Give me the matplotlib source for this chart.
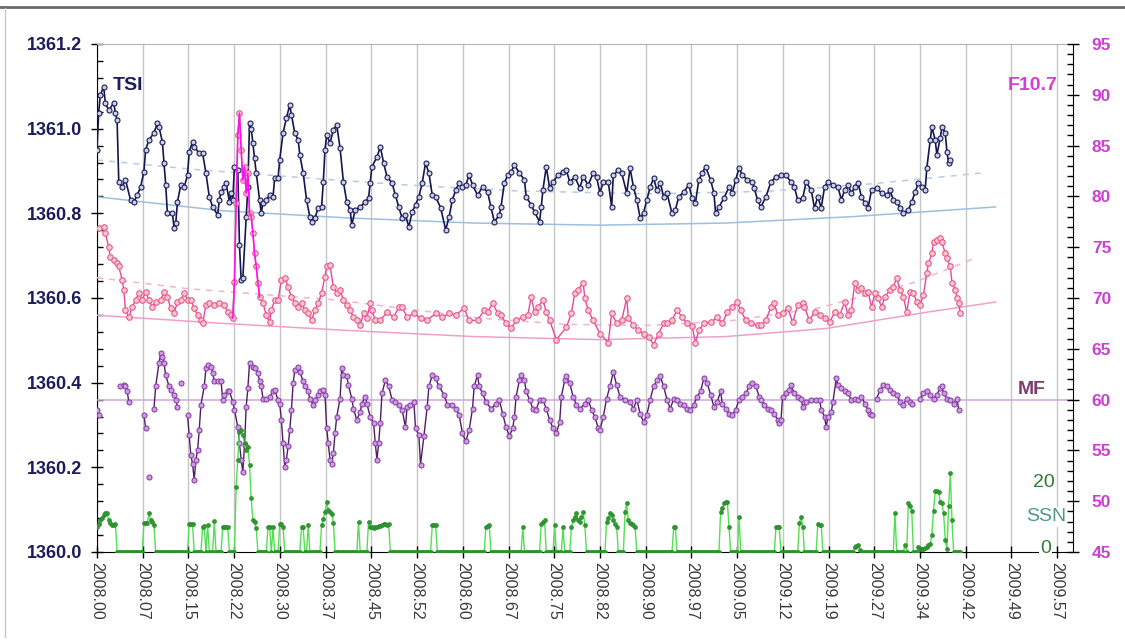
import numpy as np
import matplotlib.pyplot as plt
from matplotlib.lines import Line2D
from matplotlib.ticker import MultipleLocator, FixedLocator, FormatStrFormatter

plt.rcParams['font.family'] = ['Liberation Sans', 'DejaVu Sans']

nan = np.nan

# all series: day number counted from 2008.00
tsi_day = [0, 1, 2, 4, 5, 7, 10, 11, 12, 13, 15, 17, 20, 22, 24, 26, 28, 29, 31, 34,
           36, 37, 39, 40, 41, 42, 45, 46, 47, 48, 50, 52, 54, 55, 57, 58, 61, 63, 65, 67,
           69, 72, 73, 74, 76, 77, 79, 80, 81, 82, 84, 85, 86, 87, 89, 90, 91, 92, 93, 94,
           95, 97, 98, 99, 101, 103, 105, 106, 108, 109, 111, 113, 115, 116, 118, 120, 121, 123, 125, 127,
           128, 130, 132, 134, 135, 136, 137, 139, 141, 143, 145, 147, 149, 151, 152, 154, 157, 160, 162, 163,
           164, 167, 169, 171, 173, 176, 178, 180, 182, 184, 186, 188, 190, 192, 194, 196, 198, 200, 202, 205,
           208, 210, 212, 214, 216, 218, 220, 222, 224, 227, 230, 233, 235, 237, 240, 241, 243, 245, 247, 249,
           252, 255, 256, 259, 261, 264, 265, 266, 268, 270, 272, 275, 278, 280, 282, 285, 288, 290, 293, 296,
           298, 300, 302, 305, 307, 308, 311, 313, 316, 318, 320, 322, 324, 326, 328, 330, 332, 334, 336, 338,
           340, 343, 345, 347, 350, 353, 355, 357, 359, 361, 363, 366, 368, 369, 371, 374, 377, 379, 381, 383,
           385, 388, 391, 392, 394, 396, 399, 402, 405, 408, 411, 414, 416, 418, 421, 423, 426, 428, 430, 432,
           434, 436, 439, 442, 444, 446, 448, 450, 452, 454, 456, 458, 460, 462, 465, 468, 471, 473, 475, 477,
           479, 481, 484, 486, 488, 490, 492, 494, 495, 497, 498, 500, 501, 503, 504, 506, 507, 508, 509]
tsi_val = [1360.950, 1361.037, 1361.080, 1361.099, 1361.060, 1361.044, 1361.060, 1361.037, 1361.020, 1360.874,
           1360.862, 1360.879, 1360.832, 1360.827, 1360.843, 1360.862, 1360.898, 1360.950, 1360.973, 1360.990,
           1361.013, 1361.004, 1360.969, 1360.919, 1360.867, 1360.800, 1360.800, 1360.765, 1360.777, 1360.827,
           1360.867, 1360.862, 1360.890, 1360.945, 1360.969, 1360.957, 1360.942, 1360.942, 1360.895, 1360.839,
           1360.815, 1360.796, 1360.832, 1360.850, 1360.862, 1360.872, 1360.827, 1360.848, 1360.832, 1360.910,
           1360.902, 1360.725, 1360.643, 1360.647, 1360.791, 1360.862, 1361.013, 1361.000, 1360.966, 1360.930,
           1360.895, 1360.832, 1360.800, 1360.825, 1360.832, 1360.843, 1360.839, 1360.883, 1360.883, 1360.926,
           1360.990, 1361.025, 1361.056, 1361.032, 1360.990, 1360.973, 1360.938, 1360.895, 1360.832, 1360.791,
           1360.780, 1360.789, 1360.813, 1360.815, 1360.874, 1360.950, 1360.985, 1360.966, 1360.997, 1361.009,
           1360.954, 1360.874, 1360.827, 1360.808, 1360.772, 1360.808, 1360.815, 1360.827, 1360.836, 1360.872,
           1360.910, 1360.933, 1360.957, 1360.919, 1360.886, 1360.872, 1360.843, 1360.815, 1360.789, 1360.796,
           1360.768, 1360.803, 1360.820, 1360.839, 1360.872, 1360.919, 1360.895, 1360.843, 1360.839, 1360.813,
           1360.761, 1360.791, 1360.832, 1360.855, 1360.872, 1360.862, 1360.867, 1360.890, 1360.867, 1360.843,
           1360.862, 1360.850, 1360.815, 1360.780, 1360.796, 1360.815, 1360.872, 1360.890, 1360.898, 1360.914,
           1360.895, 1360.879, 1360.839, 1360.820, 1360.803, 1360.780, 1360.815, 1360.855, 1360.910, 1360.860,
           1360.874, 1360.890, 1360.898, 1360.902, 1360.874, 1360.886, 1360.860, 1360.886, 1360.867, 1360.895,
           1360.886, 1360.848, 1360.874, 1360.874, 1360.815, 1360.890, 1360.902, 1360.895, 1360.848, 1360.907,
           1360.862, 1360.832, 1360.789, 1360.800, 1360.832, 1360.862, 1360.883, 1360.855, 1360.872, 1360.839,
           1360.848, 1360.800, 1360.808, 1360.839, 1360.850, 1360.867, 1360.836, 1360.825, 1360.879, 1360.895,
           1360.910, 1360.879, 1360.848, 1360.800, 1360.815, 1360.836, 1360.862, 1360.848, 1360.879, 1360.907,
           1360.890, 1360.879, 1360.874, 1360.860, 1360.832, 1360.815, 1360.839, 1360.874, 1360.886, 1360.890,
           1360.890, 1360.874, 1360.862, 1360.832, 1360.836, 1360.874, 1360.855, 1360.813, 1360.839, 1360.813,
           1360.862, 1360.874, 1360.867, 1360.862, 1360.832, 1360.855, 1360.867, 1360.848, 1360.862, 1360.872,
           1360.839, 1360.825, 1360.813, 1360.855, 1360.860, 1360.848, 1360.843, 1360.855, 1360.832, 1360.827,
           1360.813, 1360.800, 1360.808, 1360.827, 1360.850, 1360.872, 1360.862, 1360.855, 1360.907, 1360.973,
           1361.004, 1360.973, 1360.938, 1360.978, 1361.004, 1360.990, 1360.945, 1360.919, 1360.926]

f107_day = [1, 4, 5, 7, 8, 10, 12, 13, 15, 16, 17, 19, 21, 23, 25, 27, 29, 31, 33, 35,
            38, 40, 42, 44, 46, 48, 50, 52, 54, 56, 58, 60, 62, 63, 65, 67, 70, 73, 76, 78,
            80, 81, 82, 83, 84, 85, 86, 87, 88, 89, 90, 91, 92, 93, 94, 95, 96, 97, 99, 101,
            103, 104, 106, 108, 110, 112, 114, 116, 118, 120, 122, 124, 126, 128, 130, 132, 134, 136, 137, 139,
            141, 143, 145, 147, 149, 151, 153, 155, 157, 159, 161, 163, 164, 166, 169, 173, 177, 180, 182, 185,
            189, 193, 197, 202, 206, 210, 214, 219, 222, 227, 231, 233, 236, 239, 241, 244, 247, 250, 254, 257,
            259, 261, 263, 266, 268, 270, 274, 280, 283, 285, 287, 290, 291, 293, 296, 300, 305, 307, 310, 313,
            316, 317, 320, 323, 326, 329, 332, 335, 338, 340, 343, 346, 349, 352, 355, 357, 359, 362, 366, 370,
            373, 376, 379, 382, 384, 387, 390, 394, 396, 399, 402, 404, 406, 409, 412, 415, 418, 421, 422, 425,
            428, 431, 434, 437, 440, 443, 446, 448, 450, 452, 454, 456, 458, 460, 462, 464, 466, 468, 470, 473,
            475, 477, 479, 481, 483, 485, 487, 489, 491, 493, 495, 496, 498, 499, 501, 503, 504, 506, 507, 509,
            510, 512, 513, 514, 515]
f107_val = [76.9, 77.0, 76.4, 75.0, 74.0, 73.7, 73.4, 73.1, 71.8, 70.8, 68.8, 68.1, 69.1, 69.8, 70.5, 69.8, 70.6, 69.8, 69.1, 69.6,
            69.8, 70.6, 70.1, 69.0, 68.5, 69.6, 69.8, 70.5, 69.8, 69.8, 69.0, 68.3, 67.8, 67.5, 69.3, 69.5, 69.3, 69.5, 69.3, 68.6,
            68.3, 68.0, 71.6, 79.3, 86.0, 88.2, 84.6, 81.6, 82.9, 80.3, 82.3, 78.4, 78.0, 76.4, 74.4, 73.1, 71.5, 70.1, 69.5, 68.3,
            67.6, 68.8, 69.8, 69.8, 71.8, 72.0, 71.1, 70.1, 69.5, 69.1, 69.5, 68.8, 68.5, 67.8, 68.8, 69.5, 70.5, 72.1, 73.1, 73.2,
            71.1, 70.5, 70.8, 69.8, 69.3, 68.8, 68.1, 67.8, 67.3, 68.5, 68.0, 69.5, 68.8, 67.8, 67.8, 68.6, 68.1, 69.1, 69.1, 68.1,
            68.5, 68.0, 67.8, 68.5, 68.1, 68.5, 68.3, 69.0, 67.8, 67.8, 68.8, 68.6, 69.5, 68.5, 68.3, 67.5, 67.0, 67.8, 68.1, 68.3,
            70.1, 68.6, 69.1, 69.8, 68.6, 67.8, 65.9, 67.1, 68.5, 70.5, 70.8, 71.5, 70.0, 68.8, 67.8, 66.5, 65.6, 68.5, 67.5, 67.8,
            70.0, 68.0, 67.3, 66.8, 66.5, 66.2, 65.4, 66.5, 67.5, 67.5, 67.8, 68.8, 68.1, 67.5, 67.2, 65.6, 66.8, 67.5, 67.6, 68.1,
            67.5, 68.6, 69.1, 69.6, 68.8, 67.8, 67.5, 67.3, 67.3, 67.8, 69.1, 69.5, 68.3, 68.5, 69.0, 67.6, 69.3, 69.5, 69.1, 67.8,
            68.6, 68.3, 68.0, 67.6, 68.6, 68.3, 69.6, 68.3, 68.8, 71.5, 70.8, 71.0, 70.5, 70.6, 69.1, 70.5, 70.0, 69.1, 70.1, 70.8,
            71.1, 72.0, 70.8, 70.1, 68.6, 70.6, 70.5, 69.6, 69.3, 70.3, 72.5, 73.4, 74.4, 75.5, 75.7, 75.9, 75.5, 74.4, 73.9, 73.1,
            71.5, 70.8, 70.0, 69.5, 68.5]

mf_day = [0, 1, 7, 14, 16, 17, 18, 19, 24, 28, 29, 30, 31, 32, 34, 35, 37, 38, 39, 40,
          41, 43, 44, 46, 47, 48, 49, 50, 52, 54, 55, 56, 57, 58, 59, 60, 61, 62, 64, 65,
          66, 68, 69, 70, 72, 74, 75, 76, 78, 79, 81, 82, 84, 85, 86, 87, 88, 89, 90, 91,
          93, 94, 96, 97, 98, 99, 101, 103, 105, 106, 108, 109, 110, 111, 112, 113, 114, 115, 116, 117,
          118, 120, 121, 123, 124, 126, 127, 129, 130, 132, 133, 135, 136, 137, 138, 139, 140, 141, 142, 143,
          145, 146, 147, 149, 150, 152, 153, 155, 157, 158, 160, 161, 163, 165, 166, 167, 168, 169, 170, 172,
          174, 176, 178, 180, 182, 184, 185, 187, 189, 190, 192, 193, 195, 197, 198, 200, 202, 204, 207, 209,
          212, 214, 216, 218, 220, 222, 224, 225, 227, 228, 230, 232, 235, 238, 240, 242, 244, 246, 248, 249,
          250, 252, 253, 255, 256, 258, 260, 262, 264, 266, 268, 270, 272, 274, 276, 277, 279, 280, 282, 284,
          286, 288, 291, 293, 295, 297, 299, 300, 302, 304, 306, 308, 310, 312, 315, 318, 320, 322, 324, 326,
          328, 330, 332, 334, 336, 338, 340, 342, 344, 346, 348, 350, 352, 354, 356, 358, 360, 362, 364, 366,
          368, 370, 372, 373, 375, 377, 379, 381, 383, 385, 387, 389, 391, 393, 395, 396, 398, 400, 402, 404,
          406, 407, 408, 409, 411, 413, 414, 416, 418, 420, 421, 423, 426, 429, 431, 432, 434, 435, 436, 438,
          439, 441, 442, 444, 446, 448, 450, 452, 454, 456, 458, 460, 461, 462, 463, 465, 467, 469, 471, 473,
          475, 477, 479, 481, 483, 485, 486, 488, 491, 493, 495, 497, 499, 501, 503, 504, 505, 507, 509, 511,
          513, 514]
mf_val = [59.0, 58.5, nan, 61.3, 61.4, 61.3, 60.8, 59.8, nan, 58.5, 57.2, nan, 52.4, nan, 59.1, 61.3, 63.6, 64.6, 64.2, 63.6,
          62.4, 61.3, 60.9, 60.5, 60.0, 59.3, nan, 61.6, nan, 58.5, 56.5, 54.5, 53.7, 52.1, 54.1, 55.0, 57.0, 59.5, 61.3, 63.1,
          63.4, 63.2, 62.6, 61.8, 61.8, 61.8, 60.0, 60.5, 60.8, 60.8, 59.8, 59.0, 57.3, 55.7, 54.1, 52.9, 55.5, 59.3, 61.1, 63.6,
          63.2, 63.1, 62.6, 61.8, 61.3, 60.1, 60.1, 60.3, 60.8, 60.9, 60.0, 59.6, 58.0, 55.7, 53.4, 54.1, 55.4, 57.0, 59.0, 61.6,
          62.9, 63.2, 62.7, 61.8, 61.3, 60.8, 60.1, 59.5, 60.0, 60.5, 60.8, 60.9, 60.5, 57.2, 55.7, 54.1, 53.7, 54.7, 56.7, 58.3,
          60.1, 63.1, 62.4, 62.3, 61.4, 60.1, 59.1, 58.0, 58.8, 59.6, 60.3, 59.6, 58.3, 57.7, 55.7, 54.1, 55.7, 57.7, 60.6, 61.9,
          61.3, 60.0, 59.8, 59.5, 59.0, 57.3, 59.3, 59.5, 59.8, 57.2, 56.5, 53.6, 56.4, 59.3, 61.3, 62.4, 62.1, 61.3, 60.5, 59.5,
          59.5, 59.1, 58.5, 56.7, 55.9, 57.0, 59.1, 61.3, 62.4, 61.3, 60.6, 59.8, 59.1, 59.6, 60.0, 58.6, 57.3, 56.4, 57.2, 58.3,
          60.3, 61.9, 62.4, 61.9, 60.8, 60.0, 59.1, 59.0, 60.0, 60.0, 59.1, 58.0, 57.2, 56.7, 57.8, 60.3, 61.9, 62.3, 61.6, 60.3,
          59.5, 59.1, 59.6, 60.0, 59.0, 58.3, 57.2, 57.0, 58.3, 60.1, 61.3, 62.7, 61.4, 60.3, 60.0, 59.8, 59.1, 60.0, 58.6, 57.8,
          58.5, 60.0, 61.3, 61.9, 62.3, 61.3, 60.0, 59.1, 60.1, 60.0, 59.6, 59.5, 59.1, 59.0, 59.5, 60.3, 60.8, 62.1, 61.6, 60.5,
          59.3, 59.8, 60.8, 59.6, 59.1, 58.6, 58.5, 59.0, 60.0, 60.3, 60.6, 61.3, 61.6, 61.3, 60.3, 60.0, 59.5, 59.1, 59.0, 58.6,
          58.0, 57.7, 58.0, 60.3, 60.6, 60.9, 61.4, 60.6, 60.3, 60.1, 59.3, 59.8, 60.0, 60.0, 60.0, 59.0, 58.3, 57.3, 58.3, 58.8,
          59.8, 62.1, 61.4, 61.1, 60.8, 60.6, 60.0, 60.1, 60.0, 60.3, 59.6, 59.0, 58.6, 58.5, nan, 60.1, 60.9, 61.4, 61.3, 60.9,
          60.6, 60.5, 59.8, 59.5, 60.1, 59.8, 59.6, nan, 60.1, 60.6, 60.8, 60.5, 60.1, 60.5, 61.1, 61.3, 60.6, 60.1, 60.0, 59.6,
          60.1, 59.0]
mf_level = 60

# sunspot number: days with non-zero values, zero on every other day up to ssn_last_day
ssn_day = [0, 1, 2, 3, 4, 5, 6, 7, 8, 9, 10, 11, 28, 29, 30, 31, 32, 33, 34, 55,
           56, 57, 63, 64, 66, 70, 75, 76, 77, 78, 83, 84, 85, 86, 87, 88, 89, 90, 91, 92,
           93, 94, 95, 102, 103, 105, 109, 110, 111, 122, 123, 126, 134, 135, 136, 137, 138, 139, 140, 141,
           156, 162, 163, 164, 165, 166, 167, 168, 169, 170, 171, 172, 173, 174, 200, 201, 202, 232, 233, 234,
           254, 265, 266, 267, 273, 278, 283, 284, 285, 286, 287, 288, 289, 290, 291, 304, 305, 306, 307, 308,
           309, 310, 315, 316, 317, 318, 319, 320, 321, 344, 345, 372, 373, 374, 375, 376, 377, 383, 405, 406,
           407, 419, 420, 421, 430, 431, 432, 452, 453, 454, 455, 476, 482, 484, 485, 486, 490, 491, 492, 493,
           494, 495, 496, 497, 498, 499, 500, 501, 502, 503, 504, 505, 506, 507, 508, 509, 510]
ssn_val = [7.2, 8.0, 9.1, 9.6, 10.5, 11.0, 11.2, 9.1, 8.2, 7.7, 7.8, 8.0, 8.2, 8.2, 8.2, 11.0, 9.1, 8.7, 7.7, 8.0,
           8.0, 8.0, 7.0, 7.4, 7.7, 8.9, 7.0, 7.0, 7.0, 7.0, 18.7, 26.3, 34.4, 34.9, 33.4, 31.0, 29.1, 30.1, 24.9, 15.3,
           9.1, 8.7, 6.8, 7.0, 7.0, 7.0, 8.0, 8.0, 7.2, 7.0, 7.0, 7.7, 7.7, 9.5, 11.5, 14.4, 12.0, 11.5, 10.9, 8.4,
           8.7, 8.7, 7.2, 7.0, 6.8, 7.0, 7.2, 7.3, 7.4, 7.7, 8.0, 7.9, 7.7, 8.0, 7.7, 7.7, 7.7, 7.2, 7.5, 7.7,
           7.0, 8.0, 8.5, 9.0, 7.7, 7.0, 7.0, 9.1, 10.0, 11.0, 9.1, 8.7, 10.0, 11.5, 7.7, 8.7, 9.8, 11.0, 10.6, 9.1,
           8.0, 7.0, 11.5, 13.9, 9.1, 8.2, 8.0, 7.7, 7.2, 7.0, 7.0, 11.5, 12.5, 13.9, 14.2, 14.4, 7.2, 9.9, 7.0, 7.0,
           7.0, 8.2, 10.1, 7.2, 8.0, 7.8, 7.7, 1.5, 1.8, 2.0, 0.6, 11.2, 2.0, 14.1, 13.0, 11.8, 1.3, 0.8, 0.8, 0.8,
           1.0, 1.3, 2.0, 2.3, 4.9, 11.8, 17.5, 17.3, 17.2, 14.4, 13.9, 11.0, 3.4, 0.8, 13.0, 22.5, 9.1]
ssn_last_day = 515

# fitted trends (solid) and second fits (dashed)
tsi_fit_day = [0, 75, 150, 225, 300, 375, 450, 536]
tsi_fit = [1360.839, 1360.806, 1360.789, 1360.777, 1360.772, 1360.777, 1360.792, 1360.815]
tsi_fit2_day = [0, 60, 120, 180, 250, 330, 400, 463, 527]
tsi_fit2 = [1360.926, 1360.903, 1360.885, 1360.868, 1360.853, 1360.846, 1360.852, 1360.870, 1360.895]
f107_fit_day = [0, 75, 150, 225, 300, 375, 435, 495, 536]
f107_fit = [68.3, 67.5, 66.8, 66.2, 65.9, 66.2, 67.0, 68.6, 69.6]
f107_fit2_day = [0, 55, 143, 181, 230, 280, 330, 380, 430, 487, 525]
f107_fit2 = [72.0, 70.9, 69.8, 69.0, 68.0, 67.4, 67.3, 67.8, 69.0, 71.5, 74.0]

# x ticks: one per solar rotation
rotation_days = 27.2753
tick_labels = ['2008.00', '2008.07', '2008.15', '2008.22', '2008.30', '2008.37', '2008.45', '2008.52',
               '2008.60', '2008.67', '2008.75', '2008.82', '2008.90', '2008.97', '2009.05', '2009.12',
               '2009.19', '2009.27', '2009.34', '2009.42', '2009.49', '2009.57']


def yr(days):
    return 2008 + np.asarray(days, dtype=float) / 365.25


fig = plt.figure(figsize=(11.25, 6.42), dpi=100)
fig.patch.set_facecolor('white')
ax = fig.add_axes([0.0862, 0.1402, 0.8676, 0.7913])
ax2 = ax.twinx()
ax3 = ax.twinx()

# frame of the window
fig.add_artist(Line2D([0, 1], [0.989, 0.989], color='#6a6a6a', lw=2))
fig.add_artist(Line2D([0.0046, 0.0046], [0.008, 0.987], color='#c8c8c8', lw=1))

tick_pos = yr([k * rotation_days for k in range(len(tick_labels))])

# TSI (left axis)
ax.plot(yr(tsi_fit_day), tsi_fit, color='#9cc0de', lw=1.1, zorder=2)
ax.plot(yr(tsi_fit2_day), tsi_fit2, color='#b6cde2', lw=1.1, ls=(0, (4, 4)), zorder=2)
ax.plot(yr(tsi_day), tsi_val, color='#15154f', lw=1.2, marker='o', ms=3.6,
        mfc='#c9d0e2', mec='#1c1c5c', mew=0.8, zorder=3)

# F10.7 and MF (right axis)
ax2.axhline(mf_level, color='#cfa6e0', lw=1.1, zorder=1)
ax2.plot(yr(f107_fit_day), f107_fit, color='#f0a0c8', lw=1.1, zorder=2)
ax2.plot(yr(f107_fit2_day), f107_fit2, color='#f2b4cc', lw=1.1, ls=(0, (4, 4)), zorder=2)
fd = np.array(f107_day)
fv = np.array(f107_val)
ax2.plot(yr(fd), fv, color='#e8479e', lw=1.0, marker='o', ms=4.0,
         mfc='#f9cabf', mec='#e6569c', mew=0.8, zorder=3)
spike = (fd >= 81) & (fd <= 97)
ax2.plot(yr(fd[spike]), fv[spike], color='#ff10ee', lw=1.1, zorder=4)
ax2.plot(yr(mf_day), mf_val, color='#4e1f62', lw=1.0, marker='o', ms=3.6,
         mfc='#cf9be6', mec='#8c44a6', mew=0.8, zorder=3)

# sunspot number (own hidden scale)
ssn_days_all = np.arange(ssn_last_day + 1)
ssn_all = np.zeros(len(ssn_days_all))
ssn_all[ssn_day] = ssn_val
ax3.plot(yr(ssn_days_all), ssn_all, color='#52e052', lw=1.0, marker='o', ms=2.8,
         mfc='#2f9a2f', mec='#2a8a2a', mew=0.5, zorder=3)

# axes limits and ticks
ax.set_xlim(2008.0, 2009.594)
ax.set_ylim(1360.0, 1361.2)
ax2.set_ylim(45, 95)
ax3.set_ylim(0, 145.1)

ax.xaxis.set_major_locator(FixedLocator(tick_pos))
ax.set_xticklabels(tick_labels)
ax.grid(axis='x', color='#c6c6c6', lw=1.0)
ax.set_axisbelow(True)
ax.tick_params(axis='x', which='major', direction='inout', length=8, width=1, pad=3,
               labelrotation=-90, labelsize=11.5, labelcolor='#3a3a3a')

ax.yaxis.set_major_locator(MultipleLocator(0.2))
ax.yaxis.set_minor_locator(MultipleLocator(0.04))
ax.yaxis.set_major_formatter(FormatStrFormatter('%.1f'))
ax.tick_params(axis='y', which='major', direction='inout', length=8, width=1, pad=6.5,
               labelsize=13, labelcolor='#1c1c5c')
ax.tick_params(axis='y', which='minor', direction='in', length=4, width=1)
for lab in ax.get_yticklabels():
    lab.set_fontweight('bold')

ax2.yaxis.set_major_locator(MultipleLocator(5))
ax2.yaxis.set_minor_locator(MultipleLocator(1))
ax2.tick_params(axis='y', which='major', direction='inout', length=8, width=1, pad=9.5,
                labelsize=12.5, labelcolor='#cc3fd0')
ax2.tick_params(axis='y', which='minor', direction='in', length=4, width=1)
for lab in ax2.get_yticklabels():
    lab.set_fontweight('bold')

ax3.set_yticks([])

ax.spines['top'].set_color('#b4b4b4')
ax.spines['right'].set_visible(False)
for s in ['left', 'top', 'bottom']:
    ax2.spines[s].set_visible(False)
for s in ax3.spines.values():
    s.set_visible(False)

# series names
ax.text(0.0164, 0.919, 'TSI', transform=ax.transAxes, fontsize=14, fontweight='bold',
        color='#1c1c5c', ha='left', va='center')
ax.text(0.9846, 0.919, 'F10.7', transform=ax.transAxes, fontsize=14, fontweight='bold',
        color='#d63cd6', ha='right', va='center')
ax.text(0.958, 0.319, 'MF', transform=ax.transAxes, fontsize=14, fontweight='bold',
        color='#7b3f6e', ha='center', va='center')
box = dict(facecolor='white', edgecolor='none', pad=1)
ax.text(0.970, 0.136, '20', transform=ax.transAxes, fontsize=14,
        color='#2e7d2e', ha='center', va='center', bbox=box, zorder=6)
ax.text(0.972, 0.069, 'SSN', transform=ax.transAxes, fontsize=14,
        color='#4f9a8a', ha='center', va='center', bbox=box, zorder=6)
ax.text(0.972, 0.006, '0', transform=ax.transAxes, fontsize=14,
        color='#2e7d2e', ha='center', va='center', bbox=box, zorder=6, clip_on=False)

fig.savefig('out.png', dpi=100, facecolor='white')
